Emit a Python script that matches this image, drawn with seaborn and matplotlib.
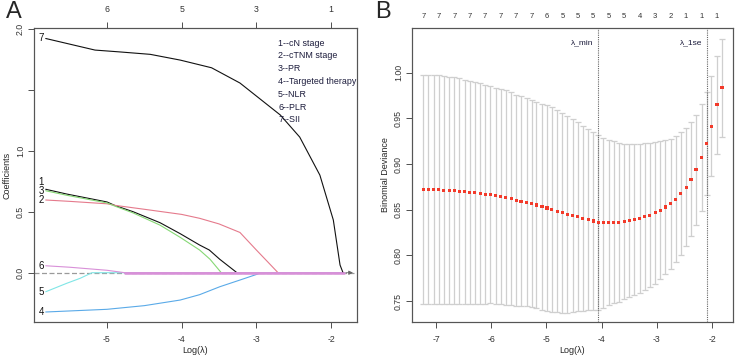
import numpy as np
import pandas as pd
import matplotlib
matplotlib.use("Agg")
import matplotlib.pyplot as plt
import seaborn as sns

# ---- Panel A: lasso coefficient paths (log lambda, coefficient) ----
var_names = ["1", "2", "3", "4", "5", "6", "7"]
legend_labels = ["1--cN stage", "2--cTNM stage", "3--PR", "4--Targeted therapy",
                 "5--NLR", "6--PLR", "7--SII"]

path_x_1 = [-5.82, -5.54, -5.0, -4.89, -4.65, -4.29, -4.02, -3.76, -3.63, -3.49, -3.26, -1.83]
path_y_1 = [0.684, 0.645, 0.58, 0.55, 0.50, 0.41, 0.32, 0.227, 0.186, 0.11, 0.0, 0.0]
path_x_2 = [-5.82, -5.5, -5.0, -4.89, -4.5, -4.0, -3.76, -3.5, -3.22, -3.0, -2.85, -2.71, -1.83]
path_y_2 = [0.596, 0.585, 0.565, 0.552, 0.52, 0.478, 0.446, 0.40, 0.33, 0.186, 0.09, 0.0, 0.0]
path_x_3 = [-5.82, -5.54, -5.0, -4.89, -4.65, -4.29, -4.02, -3.76, -3.62, -3.47, -1.83]
path_y_3 = [0.672, 0.635, 0.572, 0.545, 0.49, 0.39, 0.29, 0.186, 0.11, 0.0, 0.0]
path_x_4 = [-5.82, -5.0, -4.5, -4.02, -3.76, -3.49, -3.22, -2.93, -1.83]
path_y_4 = [-0.322, -0.30, -0.27, -0.224, -0.18, -0.115, -0.06, 0.0, 0.0]
path_x_5 = [-5.82, -5.54, -5.36, -5.2, -1.83]
path_y_5 = [-0.156, -0.087, -0.046, 0.0, 0.0]
path_x_6 = [-5.82, -5.5, -5.0, -4.76, -1.83]
path_y_6 = [0.057, 0.045, 0.02, 0.0, 0.0]
path_x_7 = [-5.82, -5.16, -4.83, -4.42, -4.02, -3.6, -3.22, -2.68, -2.42, -2.15, -1.97, -1.88, -1.84]
path_y_7 = [1.92, 1.825, 1.81, 1.79, 1.743, 1.68, 1.555, 1.293, 1.112, 0.80, 0.432, 0.063, 0.0]

label_y = [0.745, 0.596, 0.672, -0.322, -0.156, 0.055, 1.92]
top_ticks_a = [-5, -4, -3, -2]
top_labels_a = ["6", "5", "3", "1"]

# ---- Panel B: cross-validated binomial deviance ----
log_lam = [-7.23, -7.14, -7.04, -6.95, -6.86, -6.76, -6.67, -6.58, -6.48, -6.39,
           -6.30, -6.20, -6.11, -6.02, -5.92, -5.83, -5.74, -5.64, -5.55, -5.46,
           -5.36, -5.27, -5.18, -5.08, -4.99, -4.90, -4.80, -4.71, -4.62, -4.52,
           -4.43, -4.34, -4.24, -4.15, -4.06, -3.97, -3.87, -3.78, -3.69, -3.59,
           -3.50, -3.41, -3.31, -3.22, -3.13, -3.03, -2.94, -2.85, -2.75, -2.66,
           -2.57, -2.47, -2.38, -2.29, -2.19, -2.10, -2.01, -1.91, -1.82]
cv_mean = [0.8725, 0.8725, 0.8722, 0.8718, 0.8714, 0.8711, 0.8707, 0.8700, 0.8696, 0.8689,
           0.8685, 0.8678, 0.8671, 0.8664, 0.8653, 0.8642, 0.8631, 0.8620, 0.8605, 0.8594,
           0.8580, 0.8565, 0.8551, 0.8533, 0.8518, 0.8500, 0.8485, 0.8467, 0.8452, 0.8438,
           0.8423, 0.8405, 0.8391, 0.8376, 0.8358, 0.8358, 0.8358, 0.8362, 0.8362, 0.8373,
           0.8383, 0.8394, 0.8405, 0.8423, 0.8441, 0.8467, 0.8496, 0.8529, 0.8565, 0.8616,
           0.8675, 0.8744, 0.8835, 0.8937, 0.9072, 0.9225, 0.9415, 0.9648, 0.9834]
cv_se = [0.1255, 0.1255, 0.1253, 0.1252, 0.1249, 0.1244, 0.1241, 0.1238, 0.1229, 0.1223,
         0.1215, 0.1207, 0.1199, 0.1191, 0.1185, 0.1180, 0.1175, 0.1165, 0.1155, 0.1146,
         0.1140, 0.1135, 0.1129, 0.1127, 0.1125, 0.1120, 0.1105, 0.1093, 0.1078, 0.1057,
         0.1037, 0.1015, 0.0994, 0.0974, 0.0962, 0.0932, 0.0907, 0.0885, 0.0868, 0.0850,
         0.0837, 0.0828, 0.0818, 0.0805, 0.0790, 0.0777, 0.0755, 0.0735, 0.0711, 0.0692,
         0.0675, 0.0646, 0.0623, 0.0604, 0.0583, 0.0560, 0.0551, 0.0537, 0.0538]
df_counts = ["7", "7", "7", "7", "7", "7", "7", "7", "6", "5",
             "5", "5", "5", "5", "4", "3", "2", "1", "1", "1"]
lambda_min = -4.06
lambda_1se = -2.10

palette = {"1": "#111111", "2": "#E57A8C", "3": "#86D875", "4": "#5AAAE8",
           "5": "#80E6E6", "6": "#D890D8", "7": "#111111"}

sns.set_style("ticks")
plt.rcParams["font.family"] = ["Liberation Sans", "DejaVu Sans"]
plt.rcParams["axes.edgecolor"] = "#555555"
plt.rcParams["axes.linewidth"] = 0.8
plt.rcParams["axes.unicode_minus"] = False

fig = plt.figure(figsize=(7.35, 3.58), dpi=100)
ax1 = fig.add_axes([34 / 735, 36 / 358, 323 / 735, 294 / 358])
ax2 = fig.add_axes([412 / 735, 36 / 358, 321 / 735, 294 / 358])

# ---------- panel A ----------
xs = [path_x_1, path_x_2, path_x_3, path_x_4, path_x_5, path_x_6, path_x_7]
ys = [path_y_1, path_y_2, path_y_3, path_y_4, path_y_5, path_y_6, path_y_7]
rows = []
for name, px, py in zip(var_names, xs, ys):
    for a, b in zip(px, py):
        rows.append((name, a, b))
paths = pd.DataFrame(rows, columns=["var", "loglam", "coef"])

ax1.axhline(0, color="#9a9a9a", ls=(0, (4, 2)), lw=0.9, zorder=0)
sns.lineplot(data=paths, x="loglam", y="coef", hue="var", hue_order=var_names,
             palette=palette, estimator=None, sort=False, legend=False,
             lw=0.8, ax=ax1)
# the zero segment of variable 6 is drawn last and shows as a broader band
zero6 = paths[(paths["var"] == "6") & (paths["coef"] == 0)]
sns.lineplot(data=zero6, x="loglam", y="coef", color=palette["6"], lw=1.8,
             estimator=None, sort=False, ax=ax1)
ax1.annotate("", xy=(-1.67, 0), xytext=(-1.84, 0),
             arrowprops=dict(arrowstyle="-|>", color="#666666", lw=0.6, mutation_scale=6))

for name, ly in zip(var_names, label_y):
    ax1.text(-5.88, ly, name, ha="center", va="center", fontsize=7, color="#111111")

for i, txt in enumerate(legend_labels):
    ax1.text(-2.71, 1.883 - i * 0.105, txt, ha="left", va="center",
             fontsize=6.4, color="#1c1c3c")

ax1.set_xlim(-5.977, -1.653)
ax1.set_ylim(-0.404, 2.006)
ax1.set_xticks([-5, -4, -3, -2])
ax1.set_yticks([0.0, 0.5, 1.0, 1.5, 2.0])
ax1.set_yticklabels(["0.0", "0.5", "1.0", "", "2.0"])
ax1.set_xlabel("Log(λ)", fontsize=6.5, labelpad=2)
ax1.set_ylabel("Coefficients", fontsize=6.5, labelpad=3)
top1 = ax1.twiny()
top1.set_xlim(ax1.get_xlim())
top1.set_xticks(top_ticks_a)
top1.set_xticklabels(top_labels_a)

# ---------- panel B ----------
ax2.errorbar(log_lam, cv_mean, yerr=cv_se, fmt="none", ecolor="#cfcfcf",
             elinewidth=0.9, capsize=2.2, capthick=0.9, zorder=1)
sns.scatterplot(x=log_lam, y=cv_mean, color="#f23a2a", s=5, marker="s",
                edgecolor="none", zorder=3, ax=ax2)
ax2.axvline(lambda_min, color="#666666", ls=(0, (1, 1)), lw=0.8)
ax2.axvline(lambda_1se, color="#666666", ls=(0, (1, 1)), lw=0.8)
ax2.text(lambda_min - 0.08, 1.033, "λ_min", ha="right", va="center", fontsize=6, color="#1c1c3c")
ax2.text(lambda_1se - 0.08, 1.033, "λ_1se", ha="right", va="center", fontsize=6, color="#1c1c3c")

ax2.set_xlim(-7.435, -1.62)
ax2.set_ylim(0.727, 1.049)
ax2.set_xticks([-7, -6, -5, -4, -3, -2])
ax2.set_yticks([0.75, 0.80, 0.85, 0.90, 0.95, 1.00])
ax2.set_yticklabels(["0.75", "0.80", "0.85", "0.90", "0.95", "1.00"])
ax2.set_xlabel("Log(λ)", fontsize=6.5, labelpad=2)
ax2.set_ylabel("Binomial Deviance", fontsize=6.5, labelpad=3)
top2 = ax2.twiny()
top2.set_xlim(ax2.get_xlim())
top2.set_xticks(log_lam[::3])
top2.set_xticklabels(df_counts)
top2.tick_params(axis="x", length=0, labelsize=5.5, pad=6, colors="#333333")

for ax in (ax1, ax2):
    for s in ax.spines.values():
        s.set_visible(True)
    ax.tick_params(axis="both", labelsize=6.3, length=4, width=0.6,
                   colors="#333333", direction="out", pad=2.5)
    ax.tick_params(axis="x", pad=5)
    ax.tick_params(axis="y", labelrotation=90)
    for lab in ax.get_yticklabels():
        lab.set_va("center")
top1.tick_params(axis="x", labelsize=6.3, length=4, width=0.6, colors="#333333", pad=6)

fig.text(14 / 735, 1 - 12 / 358, "A", fontsize=17, ha="center", va="center")
fig.text(383 / 735, 1 - 12 / 358, "B", fontsize=17, ha="center", va="center")

fig.savefig("out.png", dpi=100)
